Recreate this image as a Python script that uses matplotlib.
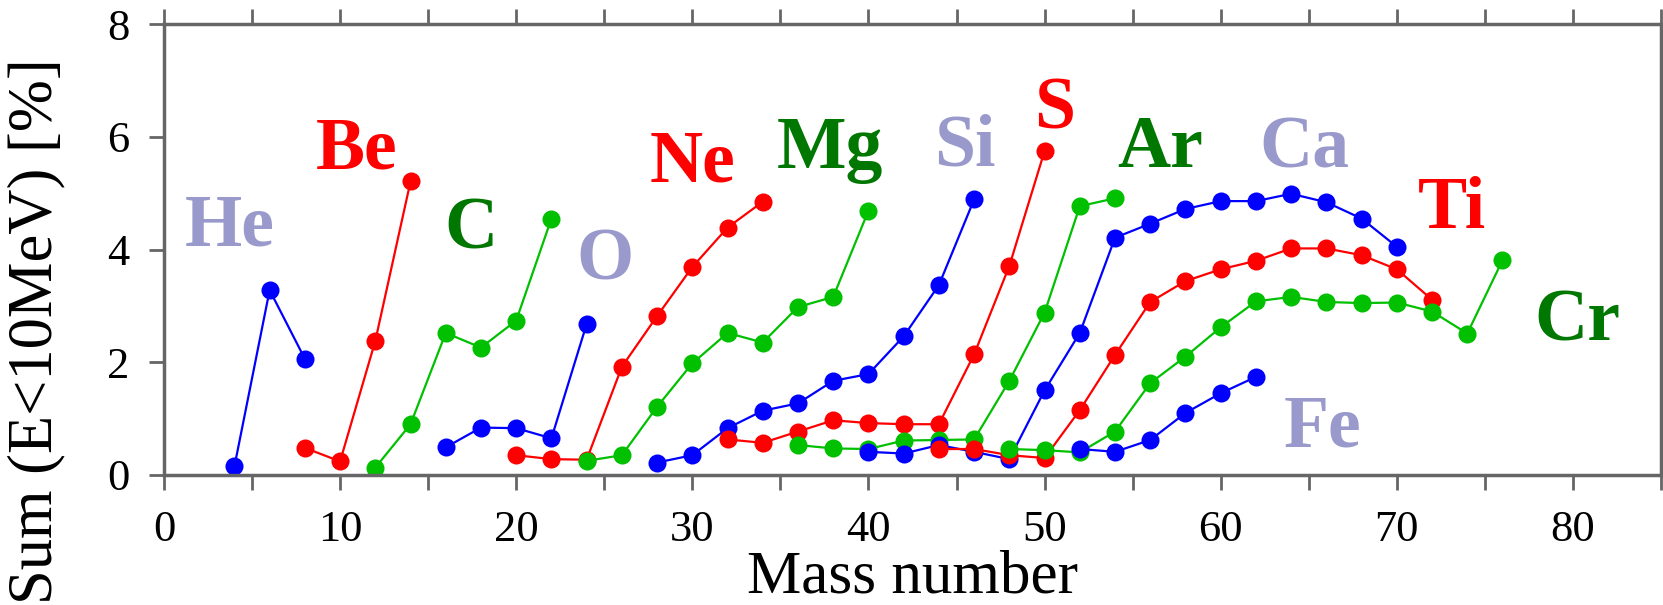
import matplotlib
matplotlib.use('Agg')
import matplotlib.pyplot as plt
from matplotlib.ticker import MultipleLocator

plt.rcParams['font.family'] = ['Liberation Serif', 'DejaVu Serif']

# mass numbers and values per element
he_a = [4, 6, 8]
he_v = [0.15, 3.28, 2.06]
be_a = [8, 10, 12, 14]
be_v = [0.48, 0.24, 2.38, 5.21]
c_a = [12, 14, 16, 18, 20, 22]
c_v = [0.13, 0.90, 2.52, 2.26, 2.74, 4.55]
o_a = [16, 18, 20, 22, 24]
o_v = [0.49, 0.84, 0.83, 0.65, 2.68]
ne_a = [20, 22, 24, 26, 28, 30, 32, 34]
ne_v = [0.35, 0.28, 0.27, 1.92, 2.82, 3.69, 4.39, 4.85]
mg_a = [24, 26, 28, 30, 32, 34, 36, 38, 40]
mg_v = [0.25, 0.35, 1.21, 1.98, 2.52, 2.35, 2.98, 3.16, 4.69]
si_a = [28, 30, 32, 34, 36, 38, 40, 42, 44, 46]
si_v = [0.22, 0.35, 0.83, 1.14, 1.27, 1.67, 1.79, 2.46, 3.37, 4.89]
s_a = [32, 34, 36, 38, 40, 42, 44, 46, 48, 50]
s_v = [0.63, 0.57, 0.77, 0.97, 0.92, 0.90, 0.90, 2.14, 3.71, 5.75]
ar_a = [36, 38, 40, 42, 44, 46, 48, 50, 52, 54]
ar_v = [0.53, 0.47, 0.46, 0.61, 0.62, 0.63, 1.67, 2.88, 4.77, 4.91]
ca_a = [40, 42, 44, 46, 48, 50, 52, 54, 56, 58, 60, 62, 64, 66, 68, 70]
ca_v = [0.41, 0.38, 0.53, 0.41, 0.28, 1.50, 2.52, 4.21, 4.46, 4.72, 4.86, 4.86, 4.99, 4.84, 4.55, 4.05]
ti_a = [44, 46, 48, 50, 52, 54, 56, 58, 60, 62, 64, 66, 68, 70, 72]
ti_v = [0.46, 0.46, 0.35, 0.30, 1.15, 2.13, 3.07, 3.44, 3.65, 3.80, 4.02, 4.02, 3.90, 3.65, 3.11]
cr_a = [48, 50, 52, 54, 56, 58, 60, 62, 64, 66, 68, 70, 72, 74, 76]
cr_v = [0.46, 0.44, 0.40, 0.77, 1.63, 2.10, 2.62, 3.08, 3.16, 3.07, 3.05, 3.06, 2.90, 2.51, 3.81]
fe_a = [52, 54, 56, 58, 60, 62]
fe_v = [0.46, 0.41, 0.62, 1.10, 1.45, 1.74]

names = ['He', 'Be', 'C', 'O', 'Ne', 'Mg', 'Si', 'S', 'Ar', 'Ca', 'Ti', 'Cr', 'Fe']
series = [(he_a, he_v), (be_a, be_v), (c_a, c_v), (o_a, o_v), (ne_a, ne_v),
          (mg_a, mg_v), (si_a, si_v), (s_a, s_v), (ar_a, ar_v), (ca_a, ca_v),
          (ti_a, ti_v), (cr_a, cr_v), (fe_a, fe_v)]
# label anchor (left, baseline) in data coords
label_x = [1.2, 8.6, 15.9, 23.4, 27.6, 34.8, 43.7, 49.4, 54.1, 62.2, 71.2, 77.8, 63.6]
label_y = [4.08, 5.44, 4.02, 3.46, 5.20, 5.44, 5.50, 6.15, 5.46, 5.46, 4.38, 2.39, 0.50]

line_col = {'b': '#0000ff', 'r': '#ff0000', 'g': '#00c000'}
text_col = {'b': '#9999cc', 'r': '#ff0000', 'g': '#007700'}
kinds = ['b', 'r', 'g', 'b', 'r', 'g', 'b', 'r', 'g', 'b', 'r', 'g', 'b']

fig = plt.figure(figsize=(16.63, 6.05), dpi=100)
ax = fig.add_axes([0.0986, 0.215, 0.9002, 0.745])

for (a, v), k in zip(series, kinds):
    ax.plot(a, v, '-o', color=line_col[k], lw=1.6, ms=13, mec='none')

for n, x, y, k in zip(names, label_x, label_y, kinds):
    ax.text(x, y, n, color=text_col[k], fontsize=53, fontweight='bold',
            ha='left', va='baseline')

ax.set_xlim(0, 85)
ax.set_ylim(0, 8)
ax.xaxis.set_major_locator(MultipleLocator(10))
ax.xaxis.set_minor_locator(MultipleLocator(5))
ax.yaxis.set_major_locator(MultipleLocator(2))
ax.tick_params(which='both', direction='out', length=11, width=2, color='#666666',
               top=True, right=True, labelsize=32, pad=14)
for sp in ax.spines.values():
    sp.set_color('#666666')
    sp.set_linewidth(2.5)

ax.set_xlabel('Mass number', fontsize=44, labelpad=0)
ax.set_ylabel('Sum (E<10MeV) [%]', fontsize=45)
ax.yaxis.set_label_coords(-0.066, 0.32)

fig.savefig('out.png', dpi=100)
